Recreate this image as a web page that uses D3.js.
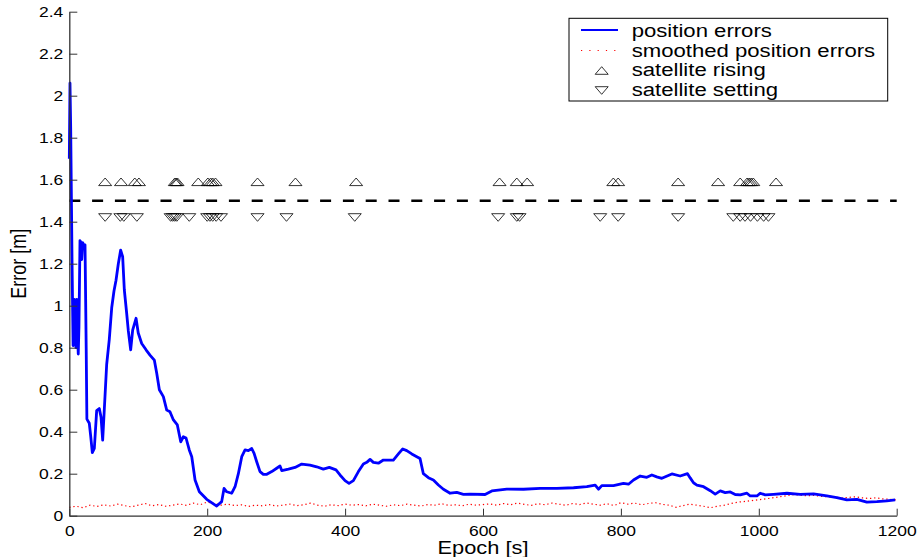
<!DOCTYPE html>
<html>
<head>
<meta charset="utf-8">
<script src="https://cdn.jsdelivr.net/npm/d3@7"></script>
<style>
  html, body { margin: 0; padding: 0; background: #fff; }
  svg { display: block; }
  text { font-family: "Liberation Sans", Arial, Helvetica, sans-serif; fill: #000; }
</style>
</head>
<body>
<svg id="chart" width="919" height="557"></svg>
<script>
// ---------------- data ----------------
const xTicks = [0, 200, 400, 600, 800, 1000, 1200];
const yTicks = [0, 0.2, 0.4, 0.6, 0.8, 1, 1.2, 1.4, 1.6, 1.8, 2, 2.2, 2.4];
const yTickLabels = ["0", "0.2", "0.4", "0.6", "0.8", "1", "1.2", "1.4", "1.6", "1.8", "2", "2.2", "2.4"];

const posEpoch = [0, 1, 2, 4, 5.5, 7, 8.5, 9.7, 10.7, 12, 13, 14, 15.5, 17, 18, 19.4, 21, 22.8, 24.5, 25.5, 29, 31, 33.4, 36.3, 39.7, 43.5, 46, 48.4, 51.8, 54.2, 58, 61.5, 64.8, 67.7, 71.1, 74.5, 77.4, 79.8, 83.2, 85.6, 89, 91.9, 96.8, 100, 105, 111.3, 117, 123.3, 126.8, 130.6, 136.4, 141.3, 146, 151, 156.7, 161.6, 165.4, 169.3, 174, 177.6, 182.4, 188.6, 199.3, 213.8, 221, 224.4, 228.3, 235.6, 240.4, 245.2, 250.1, 254.9, 259.7, 264.6, 268, 271.8, 276.6, 281.4, 286.4, 293.6, 300.8, 305.6, 308.1, 317.8, 327.4, 337.1, 349.1, 358.8, 368.4, 377.1, 386.8, 392.6, 399.9, 405.7, 412, 419.3, 426.5, 431.4, 436.2, 441, 448.3, 455.5, 462.8, 470, 477.3, 483.6, 489.4, 496.7, 503.9, 508.7, 513.5, 520.8, 528, 535.3, 542.6, 552.3, 562, 571.6, 581.3, 603, 612.8, 634.5, 658.7, 682.9, 707.1, 731.3, 750.6, 762.7, 767.5, 772.3, 789.2, 803.7, 811, 818.3, 828, 837.6, 844.9, 852, 859.4, 873.9, 886, 896.6, 900.5, 905.3, 910.2, 919.9, 929.6, 936.8, 944.1, 951.3, 958.6, 965.8, 973.1, 982.8, 987.6, 997.3, 1002, 1009.3, 1021.4, 1040.8, 1060, 1079.4, 1098.7, 1113.2, 1127.7, 1142.2, 1156.7, 1171.2, 1185.7, 1197.8];
const posError = [1.70, 2.06, 1.85, 1.2, 0.81, 1.03, 0.9, 0.80, 1.03, 0.85, 0.77, 0.9, 1.31, 1.30, 1.22, 1.30, 1.29, 1.29, 0.8, 0.46, 0.44, 0.38, 0.30, 0.32, 0.50, 0.51, 0.47, 0.36, 0.57, 0.72, 0.84, 0.99, 1.07, 1.12, 1.20, 1.265, 1.233, 1.075, 0.964, 0.88, 0.79, 0.884, 0.94, 0.87, 0.82, 0.79, 0.765, 0.741, 0.678, 0.6, 0.567, 0.503, 0.495, 0.456, 0.432, 0.352, 0.376, 0.37, 0.313, 0.281, 0.17, 0.114, 0.078, 0.046, 0.067, 0.13, 0.114, 0.107, 0.138, 0.2, 0.281, 0.313, 0.31, 0.32, 0.297, 0.257, 0.21, 0.197, 0.197, 0.21, 0.226, 0.237, 0.215, 0.222, 0.23, 0.246, 0.241, 0.233, 0.222, 0.23, 0.218, 0.194, 0.167, 0.154, 0.167, 0.21, 0.246, 0.254, 0.268, 0.254, 0.25, 0.265, 0.265, 0.265, 0.294, 0.318, 0.31, 0.294, 0.281, 0.272, 0.2, 0.181, 0.17, 0.146, 0.126, 0.107, 0.111, 0.102, 0.103, 0.101, 0.118, 0.127, 0.126, 0.13, 0.13, 0.133, 0.138, 0.146, 0.126, 0.143, 0.143, 0.154, 0.15, 0.17, 0.189, 0.183, 0.194, 0.185, 0.178, 0.199, 0.189, 0.2, 0.18, 0.157, 0.146, 0.138, 0.119, 0.103, 0.118, 0.11, 0.113, 0.101, 0.099, 0.107, 0.094, 0.094, 0.107, 0.099, 0.102, 0.107, 0.102, 0.104, 0.094, 0.086, 0.075, 0.078, 0.065, 0.067, 0.071, 0.075];

// smoothed errors, one value every 10 s from 0 to 1200
const smoothEpochStep = 10;
const smoothError = [
  0.040, 0.045, 0.038, 0.050, 0.044, 0.052, 0.046, 0.055, 0.048, 0.042,
  0.050, 0.058, 0.047, 0.053, 0.045, 0.050, 0.056, 0.049, 0.060, 0.052,
  0.065, 0.058, 0.050, 0.055, 0.048, 0.052, 0.044, 0.050, 0.047, 0.053,
  0.046, 0.050, 0.055, 0.048, 0.052, 0.060, 0.050, 0.045, 0.052, 0.048,
  0.055, 0.050, 0.053, 0.047, 0.055, 0.050, 0.045, 0.052, 0.048, 0.055,
  0.050, 0.046, 0.053, 0.050, 0.057, 0.049, 0.052, 0.047, 0.055, 0.050,
  0.053, 0.056, 0.050, 0.058, 0.052, 0.060, 0.054, 0.049, 0.057, 0.052,
  0.060, 0.055, 0.050, 0.058, 0.053, 0.061, 0.055, 0.050, 0.057, 0.048,
  0.062, 0.055, 0.060, 0.052, 0.058, 0.062, 0.054, 0.050, 0.040, 0.048,
  0.055, 0.050, 0.045, 0.038, 0.045, 0.050, 0.058, 0.065, 0.068, 0.072,
  0.076, 0.080, 0.085, 0.090, 0.095, 0.100, 0.098, 0.095, 0.097, 0.092,
  0.090, 0.088, 0.085, 0.087, 0.090, 0.085, 0.082, 0.085, 0.080, 0.078,
  0.075
];

const threshold = 1.5;
const risingLevel = 1.59;
const settingLevel = 1.42;
const risingEpochs = [52, 75, 95, 101, 153, 155, 157, 187, 201, 205, 208, 212, 273, 328, 416, 624, 649, 664, 789, 796, 883, 941, 973, 983, 986, 989, 992, 1025];
const settingEpochs = [52, 74, 79, 98, 147, 150, 153, 156, 174, 200, 204, 208, 213, 220, 273, 315, 414, 622, 649, 653, 770, 796, 883, 963, 973, 980, 988, 998, 1007, 1014];

const legendLabels = ["position errors", "smoothed position errors", "satellite rising", "satellite setting"];
const xLabel = "Epoch [s]";
const yLabel = "Error [m]";

// ---------------- drawing ----------------
const SX = 1.25; // horizontal stretch of the original rendering
const svg = d3.select("#chart");
const x = d3.scaleLinear().domain([0, 1200]).range([69.3, 896.7]);
const y = d3.scaleLinear().domain([0, 2.4]).range([515.7, 11.7]);

// dashed threshold
svg.append("line")
  .attr("x1", x(0)).attr("x2", x(1200))
  .attr("y1", y(threshold)).attr("y2", y(threshold))
  .attr("stroke", "#000").attr("stroke-width", 2.6)
  .attr("stroke-dasharray", "11,11.8");

// smoothed (red dotted)
const smoothPts = smoothError.map((v, i) => [i * smoothEpochStep, v]);
svg.append("path")
  .datum(smoothPts)
  .attr("fill", "none").attr("stroke", "#ff0000").attr("stroke-width", 1.2)
  .attr("stroke-dasharray", "1.3,2.8")
  .attr("d", d3.line().x(d => x(d[0])).y(d => y(d[1])));

// position errors (blue)
const posPts = posEpoch.map((e, i) => [e, posError[i]]);
svg.append("path")
  .datum(posPts)
  .attr("fill", "none").attr("stroke", "#0000ff").attr("stroke-width", 2.8)
  .attr("stroke-linejoin", "round")
  .attr("d", d3.line().x(d => x(d[0])).y(d => y(d[1])));

// markers
const hw = 6.5, hh = 3.8;
const upTri = `M${-hw},${hh} L0,${-hh} L${hw},${hh} Z`;
const downTri = `M${-hw},${-hh} L0,${hh} L${hw},${-hh} Z`;
svg.append("g").selectAll("path").data(risingEpochs).join("path")
  .attr("d", upTri)
  .attr("transform", d => `translate(${x(d)},${y(risingLevel)})`)
  .attr("fill", "none").attr("stroke", "#000").attr("stroke-width", 0.8);
svg.append("g").selectAll("path").data(settingEpochs).join("path")
  .attr("d", downTri)
  .attr("transform", d => `translate(${x(d)},${y(settingLevel)})`)
  .attr("fill", "none").attr("stroke", "#000").attr("stroke-width", 0.8);

// axes
const axisColor = "#333";
const gx = svg.append("g").attr("transform", `translate(0,${y(0)})`)
  .call(d3.axisBottom(x).tickValues(xTicks).tickFormat(d3.format("d")).tickSize(-7).tickSizeOuter(0));
const gy = svg.append("g").attr("transform", `translate(${x(0)},0)`)
  .call(d3.axisLeft(y).tickValues(yTicks).tickFormat((d, i) => yTickLabels[i]).tickSize(-8).tickSizeOuter(0));
[gx, gy].forEach(g => {
  g.select(".domain").attr("stroke", axisColor).attr("stroke-width", 1.3);
  g.selectAll(".tick line").attr("stroke", axisColor).attr("stroke-width", 1);
  g.selectAll("text").attr("font-size", 14)
    .attr("font-family", '"Liberation Sans", Arial, Helvetica, sans-serif')
    .attr("fill", "#000");
});
gx.selectAll(".tick text").attr("y", null).attr("dy", null)
  .attr("transform", `translate(0,20.3) scale(${SX},1)`);
gy.selectAll(".tick text").attr("x", null).attr("dy", "0.36em")
  .attr("transform", `translate(-6,0) scale(${SX},1)`);

// axis labels
svg.append("text").text(xLabel)
  .attr("text-anchor", "middle").attr("font-size", 18)
  .attr("transform", `translate(${(x(0) + x(1200)) / 2},554) scale(${SX * 0.97},1)`);
svg.append("text").text(yLabel)
  .attr("text-anchor", "middle").attr("font-size", 18)
  .attr("transform", `translate(26,${(y(0) + y(2.4)) / 2}) scale(${SX},1) rotate(-90)`);

// legend
const lg = svg.append("g");
lg.append("rect").attr("x", 569).attr("y", 18.3).attr("width", 318.7).attr("height", 82.7)
  .attr("fill", "#fff").attr("stroke", "#000").attr("stroke-width", 1);
const rowY = [30, 50.5, 70.5, 90.5];
const baseY = [37, 56.7, 76.3, 96];
lg.append("line").attr("x1", 581).attr("x2", 618).attr("y1", rowY[0]).attr("y2", rowY[0])
  .attr("stroke", "#0000ff").attr("stroke-width", 2);
lg.append("line").attr("x1", 581).attr("x2", 618).attr("y1", rowY[1]).attr("y2", rowY[1])
  .attr("stroke", "#ff0000").attr("stroke-width", 1).attr("stroke-dasharray", "1.2,7.1");
lg.append("path").attr("d", upTri).attr("transform", `translate(601.7,${rowY[2]})`)
  .attr("fill", "none").attr("stroke", "#000").attr("stroke-width", 0.8);
lg.append("path").attr("d", downTri).attr("transform", `translate(601.7,${rowY[3]})`)
  .attr("fill", "none").attr("stroke", "#000").attr("stroke-width", 0.8);
lg.selectAll("text.lab").data(legendLabels).join("text").attr("class", "lab")
  .text(d => d).attr("font-size", 18)
  .attr("transform", (d, i) => `translate(631.7,${baseY[i]}) scale(1.23,1)`);
</script>
</body>
</html>
